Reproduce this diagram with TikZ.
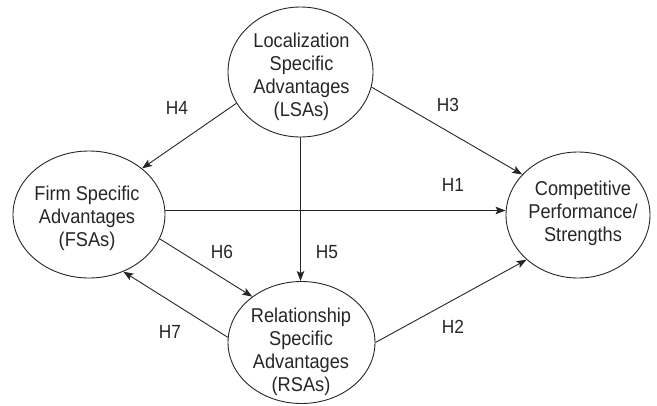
\documentclass[tikz,border=0pt]{standalone}
\usepackage{fontspec}
\setmainfont{Liberation Sans}
\newfontfamily\narrowfont[FakeStretch=0.91]{Liberation Sans}
\usetikzlibrary{shapes.geometric,arrows.meta}
\begin{document}
\begin{tikzpicture}[x=1pt,y=-1pt,
  construct/.style={ellipse,draw=black!85,line width=0.9pt,inner sep=0pt},
  ctext/.style={align=center,inner sep=0pt,font=\narrowfont\fontsize{20}{23}\selectfont,text=black!85},
  hyp/.style={font=\narrowfont\fontsize{19}{22}\selectfont,text=black!85,inner sep=0pt},
  link/.style={draw=black!85,line width=0.9pt,-{Stealth[length=10pt,width=7.5pt,inset=2pt]}}]
\useasboundingbox (0,0) rectangle (657,405);
\node[construct,minimum width=145pt,minimum height=130pt] (lsa) at (300.5,72) {};
\node[construct,minimum width=152pt,minimum height=127pt] (fsa) at (89,214.5) {};
\node[construct,minimum width=144pt,minimum height=126pt] (cps) at (578,215) {};
\node[construct,minimum width=147pt,minimum height=122pt] (rsa) at (301.5,342.5) {};
\node[ctext] (lsat) at (301.5,77) {Localization\\Specific\\Advantages\\(LSAs)};
\node[ctext] (fsat) at (87,218) {Firm Specific\\Advantages\\(FSAs)};
\node[ctext] (cpst) at (583,213.5) {Competitive\\Performance/\\Strengths};
\node[ctext] (rsat) at (301,352) {Relationship\\Specific\\Advantages\\(RSAs)};
\draw[link] (lsa.206.7) -- (fsa.41.9);
\draw[link] (lsa.348.3) -- (cps.144.5);
\draw[link] (lsa.south) -- (lsa.south |- rsa.north);
\draw[link] (fsa.3) -- (fsa.3 -| cps.west);
\draw[link] (fsa.341.7) -- (rsa.137.1);
\draw[link] (rsa.176.1) -- (fsa.301.6);
\draw[link] (rsa.east) -- (cps.221.1);
\node[hyp] (h4) at (177,108) {H4};
\node[hyp] (h3) at (448,105) {H3};
\node[hyp] (h1) at (453,185) {H1};
\node[hyp] (h6) at (222,252) {H6};
\node[hyp] (h5) at (327,252) {H5};
\node[hyp] (h7) at (170,332) {H7};
\node[hyp] (h2) at (453,327) {H2};
\end{tikzpicture}
\end{document}
